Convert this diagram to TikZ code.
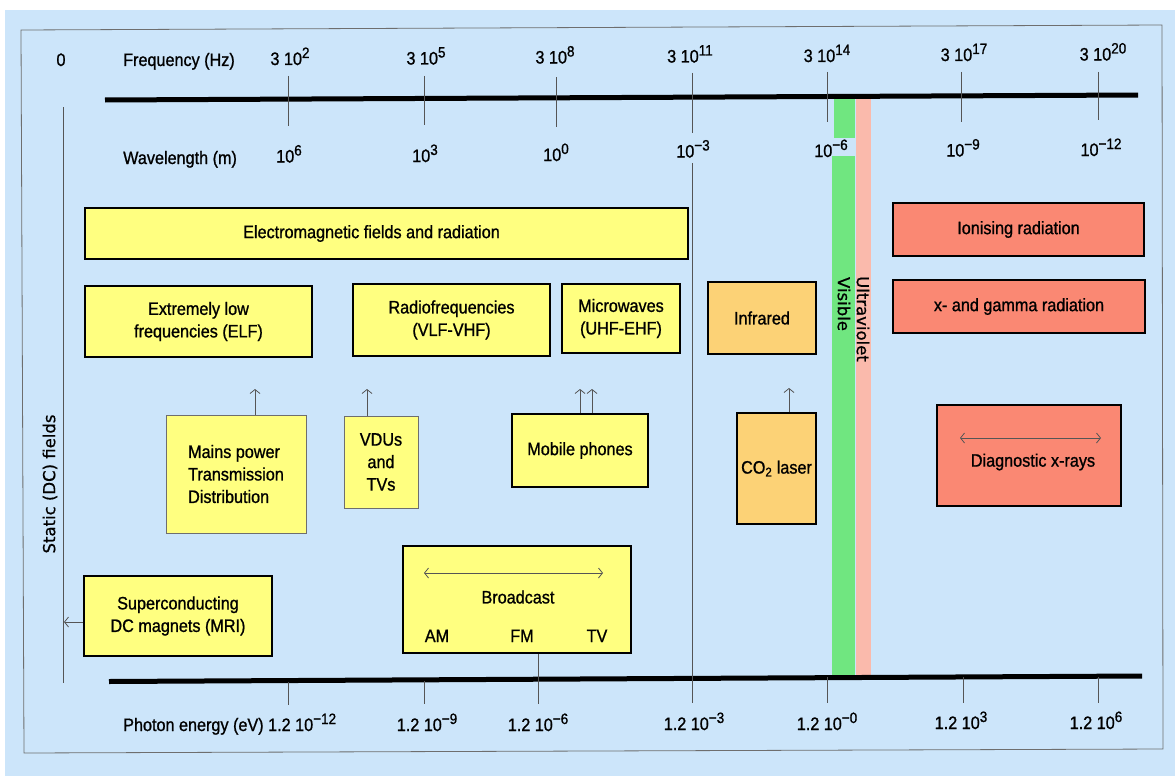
\documentclass[tikz,border=0pt]{standalone}
\usepackage{fontspec}
\setmainfont{Liberation Sans}[FakeStretch=0.9, FakeBold=1.0]
\newfontfamily\dejavu{DejaVu Sans}[FakeBold=0.8]
\usetikzlibrary{arrows.meta}
\definecolor{bgblue}{RGB}{204,229,250}
\definecolor{boxyellow}{RGB}{255,255,128}
\definecolor{boxorange}{RGB}{252,210,118}
\definecolor{boxred}{RGB}{250,136,115}
\definecolor{visgreen}{RGB}{112,230,128}
\definecolor{uvpink}{RGB}{250,186,172}
\definecolor{tickgray}{RGB}{85,85,85}
\definecolor{framegray}{RGB}{110,110,110}
\newcommand\supr[1]{\raisebox{7pt}{\fontsize{15}{15}\selectfont #1}}
\begin{document}
\begin{tikzpicture}[x=1pt,y=-1pt,
  every node/.style={font=\fontsize{18}{22.5}\selectfont, inner sep=0pt},
  box/.style={draw=black, line width=2pt, align=center},
  ybox/.style={box, fill=boxyellow},
  obox/.style={box, fill=boxorange},
  rbox/.style={box, fill=boxred},
  thinbox/.style={draw=framegray, line width=0.7pt, fill=boxyellow},
  lbl/.style={anchor=base},
  tickline/.style={draw=tickgray, line width=0.8pt},
  axisline/.style={line width=5pt, line cap=butt},
  arr/.style={draw=tickgray, line width=0.8pt, -{Straight Barb[length=4pt,width=10pt]}},
  darr/.style={draw=tickgray, line width=0.8pt, {Straight Barb[length=4pt,width=10pt]}-{Straight Barb[length=4pt,width=10pt]}},
  rottext/.style={font=\dejavu\fontsize{16.5}{19}\selectfont}
]
\useasboundingbox (0,0) rectangle (1175,776);
\fill[white] (0,0) rectangle (1175,776);
\fill[bgblue] (5,10) rectangle (1175,776);
% frame
\draw[framegray, line width=0.8pt] (21,30) -- (1162,25) -- (1163,749) -- (24,753) -- cycle;
% spectrum bands
\fill[visgreen] (834,97) rectangle (855,138);
\fill[visgreen] (832,156) rectangle (855,677);
\fill[uvpink] (856,97) rectangle (871,677);
% axes
\draw[axisline] (105,100) -- (1138,95);
\draw[axisline] (109,681.5) -- (1142,676);
% top ticks
\foreach \x/\a/\b in {288/76/126, 424/76/125, 556/77/127, 692/73/133, 827/72/122, 961/72/122, 1098/72/120}
  \draw[tickline] (\x,\a) -- (\x,\b);
% long divider at 10^-3
\draw[tickline] (692,163) -- (692,703);
% bottom ticks
\foreach \x/\a/\b in {288/682/705, 424/681/704, 827/677/703, 963/677/703, 1098/677/703}
  \draw[tickline] (\x,\a) -- (\x,\b);
% static fields line
\draw[tickline] (63,107) -- (63,683);

% top labels
\node[lbl] (zero) at (61,66) {0};
\node[lbl, anchor=base west] (freq) at (123,66) {Frequency (Hz)};
\node[lbl] (f2) at (290,65) {3 10\supr{2}};
\node[lbl] (f5) at (426,64.5) {3 10\supr{5}};
\node[lbl] (f8) at (555,63.5) {3 10\supr{8}};
\node[lbl] (f11) at (690,62.5) {3 10\supr{11}};
\node[lbl] (f14) at (827,62) {3 10\supr{14}};
\node[lbl] (f17) at (964,61) {3 10\supr{17}};
\node[lbl] (f20) at (1103,60.5) {3 10\supr{20}};

\node[lbl, anchor=base west] (wave) at (123,164) {Wavelength (m)};
\node[lbl] (w6) at (289,162.5) {10\supr{6}};
\node[lbl] (w3) at (425,162) {10\supr{3}};
\node[lbl] (w0) at (556,161) {10\supr{0}};
\node[lbl] (wm3) at (693,157.5) {10\supr{−3}};
\node[lbl] (wm6) at (831,157) {10\supr{−6}};
\node[lbl] (wm9) at (963,156.5) {10\supr{−9}};
\node[lbl] (wm12) at (1101,156) {10\supr{−12}};

% bottom labels
\node[lbl, anchor=base west] (photon) at (123,731) {Photon energy (eV) 1.2 10\supr{−12}};
\node[lbl] (e9) at (427,731) {1.2 10\supr{−9}};
\node[lbl] (e6) at (538,731) {1.2 10\supr{−6}};
\node[lbl] (e3) at (694,730) {1.2 10\supr{−3}};
\node[lbl] (e0) at (827,730) {1.2 10\supr{−0}};
\node[lbl] (ep3) at (961,729) {1.2 10\supr{3}};
\node[lbl] (ep6) at (1096,729) {1.2 10\supr{6}};

% rotated texts
\node[rottext, rotate=90] (static) at (50,484) {Static (DC) fields};
\node[rottext, rotate=-90] (visible) at (844,304) {Visible};
\node[rottext, rotate=-90] (uv) at (863,319) {Ultraviolet};

% boxes
\node[ybox, minimum width=603, minimum height=51] (em) at (386.5,233.5) {Electromagnetic fields and radiation\hspace*{30pt}};
\node[ybox, minimum width=227, minimum height=71] (elf) at (198.5,321.5) {Extremely low\\frequencies (ELF)};
\node[ybox, minimum width=197, minimum height=72] (rf) at (451.5,320) {Radiofrequencies\\(VLF-VHF)};
\node[ybox, minimum width=118, minimum height=69] (mw) at (621,318.5) {Microwaves\\(UHF-EHF)};
\node[obox, minimum width=108, minimum height=72] (ir) at (762,318) {Infrared};
\node[rbox, minimum width=251, minimum height=53] (ion) at (1018.5,229.5) {Ionising radiation};
\node[rbox, minimum width=252, minimum height=53] (xg) at (1019,306.5) {x- and gamma radiation};

\node[thinbox, minimum width=140, minimum height=118, align=left] (mains) at (236,474) {Mains power\\Transmission\\Distribution};
\node[thinbox, minimum width=74, minimum height=92, align=center] (vdu) at (381,462) {VDUs\\and\\TVs};
\node[ybox, minimum width=136, minimum height=73] (mob) at (580,450.5) {Mobile phones};
\node[obox, minimum width=79, minimum height=111] (co2) at (776.5,468.5) {CO\textsubscript{2} laser};
\node[rbox, minimum width=184, minimum height=101] (diag) at (1029,455.5) {};
\node (diagt) at (1033,462) {Diagnostic x-rays};
\node[ybox, minimum width=228, minimum height=107] (bc) at (517,599.5) {};
\node (bct) at (518,597) {Broadcast};
\node[lbl] (am) at (437,642) {AM};
\node[lbl] (fm) at (522,642) {FM};
\node[lbl] (tv) at (597,642) {TV};
\node[ybox, minimum width=188, minimum height=80] (sc) at (178,616) {Superconducting\\DC magnets (MRI)};

% arrows
\coordinate (a1) at (255,389);
\coordinate (a2) at (367,389);
\coordinate (a3) at (580,389);
\coordinate (a4) at (592,389);
\coordinate (a5) at (789,388);
\draw[arr] (mains.north -| a1) -- (a1);
\draw[arr] (vdu.north -| a2) -- (a2);
\draw[arr] (mob.north -| a3) -- (a3);
\draw[arr] (mob.north -| a4) -- (a4);
\draw[arr] (co2.north -| a5) -- (a5);
\coordinate (scend) at (64,622);
\draw[arr] (sc.west |- scend) -- (scend);
\coordinate (b1) at (424,573);
\coordinate (b2) at (603,573);
\draw[darr] (b1) -- (b2);
\coordinate (d1) at (960,438);
\coordinate (d2) at (1101,438);
\draw[darr] (d1) -- (d2);
\coordinate (fmt) at (538,704);
\draw[tickline] (bc.south -| fmt) -- (fmt);
\end{tikzpicture}
\end{document}
